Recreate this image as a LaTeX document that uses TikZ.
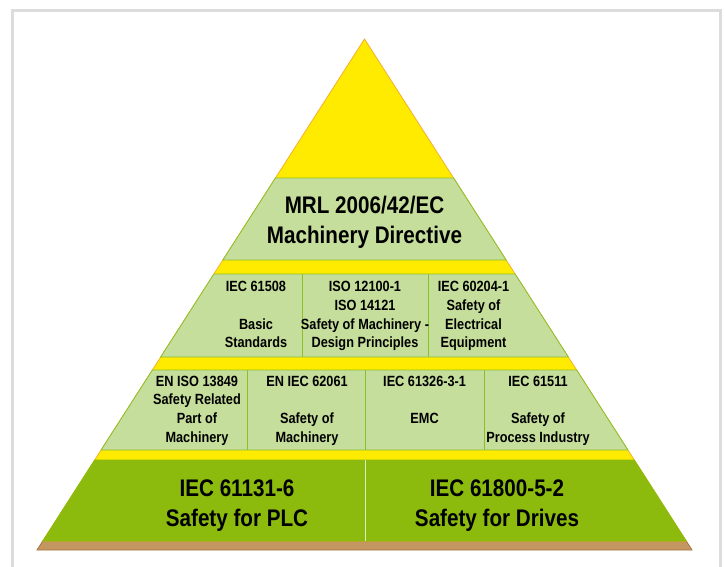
\documentclass[tikz,border=0pt]{standalone}
\usepackage{fontspec}
\setmainfont{Liberation Sans}[FakeStretch=0.86]
\usetikzlibrary{calc}

\definecolor{pyrYellow}{RGB}{255,235,0}
\definecolor{pyrOrange}{RGB}{245,175,45}
\definecolor{pyrLight}{RGB}{198,222,155}
\definecolor{pyrEdge}{RGB}{140,190,40}
\definecolor{pyrDark}{RGB}{140,187,14}
\definecolor{pyrBrown}{RGB}{196,150,98}
\definecolor{pyrBrownEdge}{RGB}{165,115,60}
\definecolor{frameGray}{RGB}{220,220,220}

\begin{document}
\begin{tikzpicture}[
      x=1pt,y=-1pt,
      declare function={hw(\h)=0.6409*(\h-39);},
      frame/.style={draw=frameGray,line width=3pt},
      tip/.style={fill=pyrYellow,draw=pyrOrange,line width=0.8pt},
      lband/.style={fill=pyrLight,draw=pyrEdge,line width=0.8pt},
      dband/.style={fill=pyrDark,draw=pyrDark,line width=0.8pt},
      foot/.style={fill=pyrBrown,draw=pyrBrownEdge,line width=0.8pt},
      sep/.style={draw=pyrEdge,line width=0.8pt},
      lsep/.style={draw=pyrLight!60!white,line width=0.8pt},
      big/.style={font=\fontsize{24}{30}\selectfont\bfseries,align=center,anchor=base,inner sep=0pt},
      lbl/.style={font=\fontsize{14.8}{18.7}\selectfont\bfseries,align=center,anchor=base,inner sep=0pt}
    ]
    \useasboundingbox (0,0) rectangle (725,567);
    % outer frame (open at the bottom)
    \draw[frame] (12.5,567) -- (12.5,10.5) -- (720.5,10.5) -- (720.5,567);
    % foot and yellow body
    \filldraw[foot] ({364.5-hw(541)},541) -- ({364.5+hw(541)},541)
      -- ({364.5+hw(550)},550) -- ({364.5-hw(550)},550) -- cycle;
    \filldraw[tip] (364.5,39) -- ({364.5+hw(541)},541) -- ({364.5-hw(541)},541) -- cycle;
    % green bands
    \foreach \t/\b/\s in {178/260/lband,274/357/lband,370/450/lband,460/541/dband}{
      \filldraw[\s] ({364.5-hw(\t)},\t) -- ({364.5+hw(\t)},\t)
        -- ({364.5+hw(\b)},\b) -- ({364.5-hw(\b)},\b) -- cycle;}
    % column separators
    \foreach \x in {302,428}{\draw[sep] (\x,274) -- (\x,357);}
    \foreach \x in {247,365.5,484}{\draw[sep] (\x,370) -- (\x,450);}
    \draw[lsep] (365.5,460) -- (365.5,541);
    % top band (positions are last baselines)
    \node[big] (mrl) at (364.5,243) {MRL 2006/42/EC\\Machinery Directive};
    % second band
    \node[lbl] (iec61508) at (256,347.8) {IEC 61508\\[18.7pt]Basic\\Standards};
    \node[lbl] (iso12100) at (365,347.8) {ISO 12100-1\\ISO 14121\\Safety of Machinery -\\Design Principles};
    \node[lbl] (iec60204) at (473.5,347.8) {IEC 60204-1\\Safety of\\Electrical\\Equipment};
    % third band
    \node[lbl] (iso13849) at (197,442.1) {EN ISO 13849\\Safety Related\\Part of\\Machinery};
    \node[lbl] (iec62061) at (307,442.1) {EN IEC 62061\\[18.7pt]Safety of\\Machinery};
    \node[lbl] (iec61326) at (424.6,423.4) {IEC 61326-3-1\\[18.7pt]EMC};
    \node[lbl] (iec61511) at (538,442.1) {IEC 61511\\[18.7pt]Safety of\\Process Industry};
    % base band
    \node[big] (iec61131) at (237,526.5) {IEC 61131-6\\Safety for PLC};
    \node[big] (iec61800) at (497,526.5) {IEC 61800-5-2\\Safety for Drives};
  \end{tikzpicture}
\end{document}
